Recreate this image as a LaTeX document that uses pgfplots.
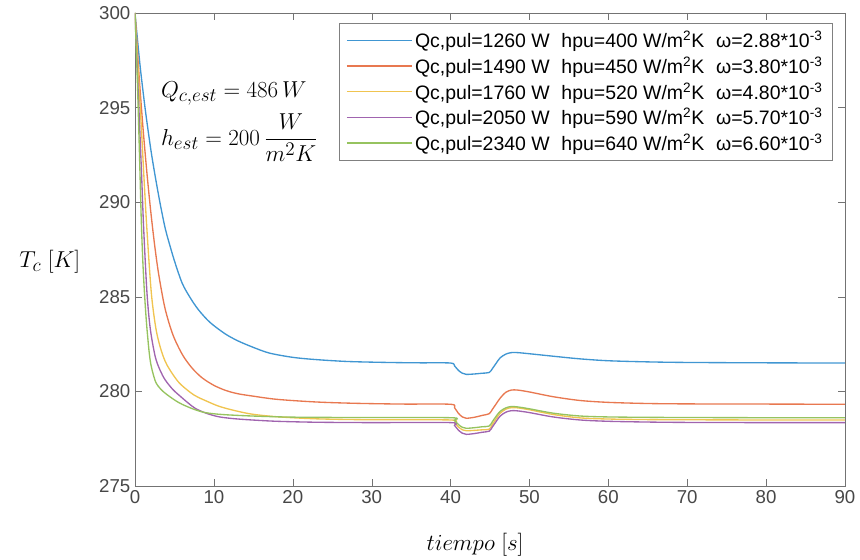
\documentclass[border=0pt]{standalone}
\usepackage{amsmath}
\usepackage{fontspec}
\setmainfont{Liberation Sans}
\usepackage{pgfplots}
\pgfplotsset{compat=1.18}

\definecolor{mblue}{RGB}{64,150,210}
\definecolor{morange}{RGB}{232,120,80}
\definecolor{myellow}{RGB}{240,196,80}
\definecolor{mpurple}{RGB}{160,100,175}
\definecolor{mgreen}{RGB}{150,195,95}

\newcommand{\gap}{\hspace{0.6em}}

\begin{document}
\begin{tikzpicture}
\path[use as bounding box] (-101.25pt,-55.5pt) rectangle (543.75pt,364.5pt);
\begin{axis}[
    scale only axis,
    width=532.5pt, height=354.75pt,
    xmin=0, xmax=90, ymin=275, ymax=300,
    xtick={0,10,...,90}, ytick={275,280,...,300},
    /pgf/number format/assume math mode=true,
    ticklabel style={font=\fontsize{14}{16}\selectfont, color=black!72},
    axis line style={black!55},
    major tick style={black!55},
    tick align=inside,
    major tick length=5pt,
    xlabel={$tiempo\;[s]$},
    ylabel={$T_c\;[K]$},
    label style={font=\fontsize{19}{22}\selectfont},
    xlabel style={at={(rel axis cs:0.479,-0.125)}, anchor=center},
    ylabel style={rotate=-90, at={(rel axis cs:-0.12,0.474)}, anchor=center},
    legend style={at={(0.982,0.979)}, anchor=north east, draw=black!50,
        font=\fontsize{14.6}{16.5}\selectfont, row sep=1.4pt, inner xsep=5pt, inner ysep=4pt},
    legend cell align=left,
    legend image code/.code={\draw[#1] (0pt,0pt) -- (48.75pt,0pt);},
    every axis plot/.append style={line width=1pt, smooth, tension=0.5},
]

% Qc,pul = 1260 W
\addplot[mblue] coordinates {
 (0,300) (0.3,298.66) (0.7,297.0) (1.31,294.87) (2,292.8) (2.57,291.35) (3.2,289.9)
 (3.84,288.6) (4.5,287.6) (5.1,286.77) (6,285.7) (7,284.95) (8.07,284.3) (9.5,283.65)
 (11.4,283.05) (13,282.68) (14.8,282.36) (17,282.03) (20,281.8) (23,281.68) (27,281.58)
 (32,281.53) (36,281.51) (40,281.5) (40.5,281.35) (41,281.11) (41.5,280.96) (42,280.9)
 (43,280.92) (44,280.96) (44.9,281.0) (45.3,281.2) (45.8,281.5) (46.3,281.78) (47,281.97)
 (47.7,282.05) (48.5,282.05) (50,281.99) (53,281.86) (56.4,281.72) (60,281.62) (65,281.56)
 (70,281.53) (80,281.51) (90,281.5)
};
\addlegendentry{Qc,pul=1260 W\gap hpu=400 W/m\textsuperscript{2}K\gap ω=2.88*10\textsuperscript{-3}}

% Qc,pul = 1490 W
\addplot[morange] coordinates {
 (0,300) (0.5,296.8) (1,294.0) (1.5,291.6) (2,289.5) (2.5,287.7) (3,286.2) (3.8,284.4)
 (4.8,283.0) (6,281.95) (7.2,281.25) (8.5,280.72) (10,280.32) (11.5,280.05) (13,279.88)
 (14.8,279.76) (18,279.58) (23,279.44) (28,279.37) (34,279.33) (40,279.32)
 (40.5,279.14) (41,278.84) (41.5,278.65) (42,278.58) (43,278.63) (44,278.73) (44.9,278.82)
 (45.3,279.05) (45.8,279.35) (46.3,279.65) (47,279.95) (47.7,280.07) (48.5,280.07)
 (50,279.97) (53,279.72) (56.4,279.52) (60,279.42) (65,279.36) (70,279.34) (80,279.33) (90,279.32)
};
\addlegendentry{Qc,pul=1490 W\gap hpu=450 W/m\textsuperscript{2}K\gap ω=3.80*10\textsuperscript{-3}}

% Qc,pul = 1760 W
\addplot[myellow] coordinates {
 (0,300) (0.4,297.0) (0.8,294.0) (1.15,291.2) (1.52,288.5) (2.07,285.2) (2.66,283.3)
 (3.3,282.2) (4.05,281.4) (5.5,280.5) (7,279.95) (7.86,279.72) (9,279.5) (10.6,279.22)
 (12.5,279.0) (14.8,278.8) (18,278.66) (23,278.55) (30,278.5) (40,278.49)
 (40.5,278.35) (41,278.12) (41.5,277.97) (42,277.92) (43,277.94) (44,277.97) (44.9,278.0)
 (45.3,278.25) (45.8,278.57) (46.3,278.85) (47,279.06) (47.7,279.14) (48.5,279.13)
 (50,279.03) (53,278.78) (56.4,278.6) (60,278.54) (65,278.51) (70,278.5) (80,278.49) (90,278.49)
};
\addlegendentry{Qc,pul=1760 W\gap hpu=520 W/m\textsuperscript{2}K\gap ω=4.80*10\textsuperscript{-3}}

% Qc,pul = 2050 W
\addplot[mpurple] coordinates {
 (0,300) (0.3,296.9) (0.6,293.9) (0.85,291.3) (1.1,288.6) (1.52,285.2) (1.94,283.3)
 (2.57,281.83) (3.2,281.1) (3.84,280.6) (4.8,280.1) (5.75,279.74) (6.7,279.4) (7.65,279.1)
 (9,278.85) (10.6,278.66) (12.5,278.56) (14.8,278.49) (18,278.42) (23,278.37) (30,278.35) (40,278.35)
 (40.5,278.2) (41,277.95) (41.5,277.79) (42,277.73) (43,277.77) (44,277.84) (44.9,277.9)
 (45.3,278.12) (45.8,278.42) (46.3,278.7) (47,278.9) (47.7,278.98) (48.5,278.97)
 (50,278.88) (53,278.65) (56.4,278.49) (60,278.42) (65,278.38) (70,278.36) (80,278.35) (90,278.35)
};
\addlegendentry{Qc,pul=2050 W\gap hpu=590 W/m\textsuperscript{2}K\gap ω=5.70*10\textsuperscript{-3}}

% Qc,pul = 2340 W
\addplot[mgreen] coordinates {
 (0,300) (0.3,296.4) (0.55,292.8) (0.8,289.0) (1.0,286.8) (1.23,285.0) (1.52,283.3)
 (1.94,281.6) (2.57,280.55) (3.2,280.15) (3.84,279.9) (5,279.55) (5.96,279.32) (7.5,279.05)
 (8.9,278.88) (11,278.78) (14.8,278.7) (20,278.64) (28,278.62) (40,278.61)
 (40.5,278.47) (41,278.25) (41.5,278.1) (42,278.05) (43,278.08) (44,278.13) (44.9,278.17)
 (45.3,278.4) (45.8,278.7) (46.3,278.95) (47,279.13) (47.7,279.2) (48.5,279.18)
 (50,279.08) (53,278.85) (56.4,278.7) (60,278.65) (65,278.63) (70,278.62) (80,278.61) (90,278.61)
};
\addlegendentry{Qc,pul=2340 W\gap hpu=640 W/m\textsuperscript{2}K\gap ω=6.60*10\textsuperscript{-3}}

\node[anchor=west, font=\fontsize{19}{22}\selectfont] at (rel axis cs:0.03,0.83) {$Q_{c,est}=486\,W$};
\node[anchor=west, font=\fontsize{19}{22}\selectfont] at (rel axis cs:0.03,0.736) {$h_{est}=200\,\dfrac{W}{m^2K}$};
\end{axis}
\end{tikzpicture}
\end{document}
